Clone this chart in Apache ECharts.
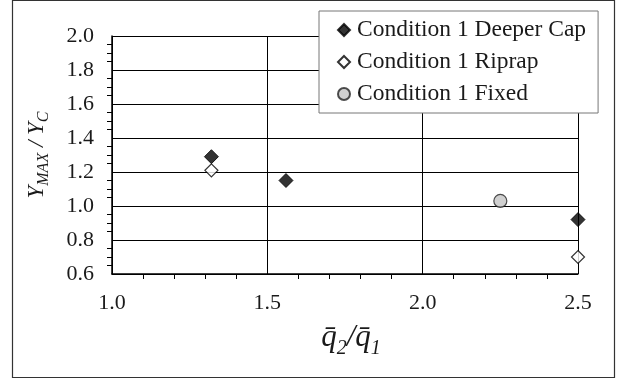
<!DOCTYPE html>
<html>
<head>
<meta charset="utf-8">
<script src="https://cdn.jsdelivr.net/npm/echarts@6/dist/echarts.min.js"></script>
<style>
  html, body { margin: 0; padding: 0; background: #fff; }
  #main { width: 618px; height: 380px; }
</style>
</head>
<body>
<div id="main"></div>
<script>
var seriesNames = ['Condition 1 Deeper Cap', 'Condition 1 Riprap', 'Condition 1 Fixed'];
var deeperCap = [[1.32, 1.29], [1.56, 1.15], [2.5, 0.92]];
var riprap = [[1.32, 1.21], [2.5, 0.70]];
var fixed = [[2.25, 1.03]];

var serif = '"Liberation Serif", "DejaVu Serif", serif';
var ink = '#1a1a1a';

var myChart = echarts.init(document.getElementById('main'));
option = {
    animation: false,
    backgroundColor: '#fff',
    textStyle: { fontFamily: serif },
    graphic: [{
        type: 'rect',
        shape: { x: 12.5, y: 0.5, width: 602, height: 377 },
        style: { fill: 'none', stroke: '#333', lineWidth: 1.2 },
        z: 0
    }],
    grid: { left: 112, right: 40, top: 36, bottom: 106 },
    legend: {
        orient: 'vertical',
        left: 319,
        top: 11,
        width: 280,
        padding: [7, 12, 7, 18],
        itemGap: 8,
        itemWidth: 12,
        itemHeight: 12,
        backgroundColor: '#fff',
        borderColor: '#777',
        borderWidth: 1,
        textStyle: { fontFamily: serif, fontSize: 23.5, color: ink, padding: [0, 0, 0, 2] },
        data: seriesNames,
        z: 10
    },
    xAxis: {
        type: 'value',
        min: 1.0,
        max: 2.5,
        interval: 0.5,
        axisLine: { show: true, lineStyle: { color: '#000', width: 1.5 } },
        axisTick: { show: false },
        minorTick: { show: true, splitNumber: 5, length: 5, lineStyle: { color: '#000' } },
        axisLabel: {
            margin: 18, fontSize: 22, color: ink, fontFamily: serif,
            formatter: function (v) { return v.toFixed(1); }
        },
        splitLine: { show: true, lineStyle: { color: '#000', width: 1 } },
        name: '{q|q\u0304}{s|2}{q|/q\u0304}{s|1}',
        nameLocation: 'middle',
        nameGap: 45,
        nameTextStyle: {
            padding: [0, 0, 0, 12],
            rich: {
                q: { fontFamily: serif, fontStyle: 'italic', fontSize: 31, color: ink, lineHeight: 34, verticalAlign: 'bottom' },
                s: { fontFamily: serif, fontStyle: 'italic', fontSize: 20, color: ink, lineHeight: 34, verticalAlign: 'bottom', padding: [0, 0, -6, 0] }
            }
        }
    },
    yAxis: {
        type: 'value',
        min: 0.6,
        max: 2.0,
        interval: 0.2,
        axisLine: { show: true, lineStyle: { color: '#000', width: 1.5 } },
        axisTick: { show: false },
        minorTick: { show: true, splitNumber: 4, length: 5, lineStyle: { color: '#000' } },
        axisLabel: {
            margin: 18, fontSize: 22, color: ink, fontFamily: serif,
            formatter: function (v) { return v.toFixed(1); }
        },
        splitLine: { show: true, lineStyle: { color: '#000', width: 1 } },
        name: '{v|Y}{s|MAX}{v| / Y}{s|C}',
        nameLocation: 'middle',
        nameRotate: 90,
        nameGap: 64,
        nameTextStyle: {
            rich: {
                v: { fontFamily: serif, fontStyle: 'italic', fontSize: 23, color: ink, lineHeight: 26, verticalAlign: 'bottom' },
                s: { fontFamily: serif, fontStyle: 'italic', fontSize: 16, color: ink, lineHeight: 26, verticalAlign: 'bottom', padding: [0, 0, -4, 0] }
            }
        }
    },
    series: [
        {
            name: seriesNames[0],
            type: 'scatter',
            symbol: 'diamond',
            symbolSize: 14,
            itemStyle: { color: '#000', borderColor: '#000', borderWidth: 1 },
            data: deeperCap,
            z: 5
        },
        {
            name: seriesNames[1],
            type: 'scatter',
            symbol: 'diamond',
            symbolSize: 13,
            itemStyle: { color: '#fff', borderColor: '#000', borderWidth: 1.2 },
            data: riprap,
            z: 5
        },
        {
            name: seriesNames[2],
            type: 'scatter',
            symbol: 'circle',
            symbolSize: 13,
            itemStyle: { color: '#c4c4c4', borderColor: '#222', borderWidth: 1.2 },
            data: fixed,
            z: 5
        }
    ]
};

myChart.setOption(option);
</script>
</body>
</html>
